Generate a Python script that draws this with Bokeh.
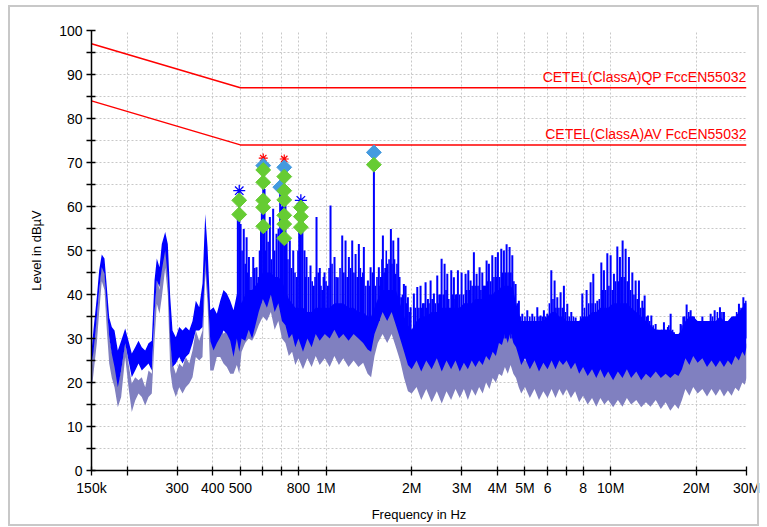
from bokeh.plotting import figure
from bokeh.models import FixedTicker, Range1d, InlineStyleSheet
from bokeh.embed import file_html
from bokeh.resources import INLINE
from bokeh.core.properties import value

# ---------------- data (frequencies in MHz, levels in dBuV) ----------------
freq_mhz = [
    0.150, 0.1524, 0.1566, 0.1596, 0.1630, 0.1666, 0.1698, 0.1731, 0.1768, 0.1807,
    0.1856, 0.1907, 0.1970, 0.2023, 0.2078, 0.2136, 0.2194, 0.2253, 0.2316, 0.2379,
    0.2443, 0.2497, 0.2544, 0.2600, 0.2649, 0.2723, 0.2781, 0.2836, 0.2889, 0.2967,
    0.3050, 0.3132, 0.3217, 0.3307, 0.3396, 0.3488, 0.3585, 0.3682, 0.3764, 0.3835,
    0.3919, 0.4025, 0.4134, 0.4249, 0.4364, 0.4482, 0.4607, 0.4732, 0.4860,
    0.4956, 0.505, 0.52, 0.535, 0.55, 0.565, 0.58, 0.60, 0.62, 0.64,
    0.66, 0.68, 0.70, 0.72, 0.74, 0.76, 0.78, 0.80, 0.83, 0.86,
    0.89, 0.92, 0.95, 0.99, 1.03, 1.07, 1.11, 1.15, 1.20, 1.25,
    1.30, 1.35, 1.40, 1.44, 1.48, 1.52, 1.58, 1.64, 1.70, 1.76,
    1.82, 1.88, 1.94, 2.00,
    2.08, 2.16, 2.25, 2.35, 2.45, 2.55, 2.65, 2.75, 2.85, 2.95,
    3.05, 3.15, 3.25, 3.35, 3.45, 3.55, 3.65, 3.75, 3.85, 3.95,
    4.05, 4.15, 4.25, 4.35, 4.45, 4.55, 4.65, 4.75, 4.85,
    5.0, 5.2, 5.4, 5.6, 5.8,
    6.0, 6.2, 6.4, 6.6, 6.8,
    7.0, 7.25, 7.5, 7.75,
    8.0, 8.3, 8.6, 8.9,
    9.2, 9.5, 9.8,
    10.2, 10.6, 11.0, 11.4, 11.8,
    12.3, 12.8, 13.3, 13.8,
    14.4, 15.0, 15.6, 16.2, 16.8, 17.3, 17.8,
    18.3, 18.9, 19.5, 20.2,
    21.0, 21.8, 22.6, 23.4, 24.2, 25.0, 25.8, 26.6, 27.4, 28.2, 29.0, 29.6, 30.0,
]

# peak detector trace: upper / lower edge of the dense blue body
pk_hi = [
    27, 32, 39.4, 45.5, 49.1, 48.2, 41.7, 34.8, 32.6, 31.8,
    27.3, 29.5, 32.3, 29.5, 26.6, 28, 29.5, 28, 27.3, 28.9,
    29.5, 43.2, 48.2, 46.2, 51.5, 54.2, 51.5, 39.4, 31.8, 30.3,
    32.6, 31.8, 32.6, 31.8, 34, 38.6, 37.1, 42.5, 58.3, 50.8,
    36.4, 37.1, 35.6, 38.6, 41, 40.2, 38.6, 36.4, 40,
    40, 38, 40, 41, 41, 42, 43, 45, 45, 45,
    44, 44, 43, 41, 39, 38, 37, 37, 37, 36,
    36, 37, 37, 37, 37, 38, 38, 38, 37, 37,
    36, 36, 35, 35, 37, 39, 41, 41, 41, 41,
    38, 35, 33, 32,
    34, 35, 35, 36, 36, 37, 37, 37, 37, 37,
    38, 38, 38, 39, 39, 39, 40, 40, 40, 41,
    41, 42, 42, 42, 42, 41, 38, 36, 34,
    34, 34, 34, 34, 34,
    35, 36, 36, 35, 35,
    34, 34, 34, 34,
    35, 35, 36, 36,
    37, 37, 37,
    38, 38, 38, 38, 37,
    36, 35, 34, 33,
    32, 32, 32, 32, 31, 31, 32,
    34, 35, 35, 34,
    34, 34, 34, 34, 35, 34, 34, 35, 35, 36, 37, 38, 38,
]
pk_lo = [
    24, 27, 34.8, 41, 46.2, 44.7, 37.1, 30.3, 26.5, 23.5,
    18.9, 22.7, 28.9, 25, 21.2, 22.7, 24.3, 22.7, 23.5, 24.3,
    22.7, 35.6, 43.2, 41.7, 45.5, 50, 43.9, 29.5, 23.5, 24.3,
    25.8, 24.3, 25.8, 26.6, 28.9, 31.8, 31.8, 32.6, 48, 41,
    29.5, 27.3, 28.9, 30.3, 31.8, 31.1, 29.5, 25.8, 30,
    27, 30, 29.5, 32, 30, 33, 36, 39, 37, 40,
    36, 38, 34, 33, 30, 31, 28, 30, 27, 30,
    28, 31, 29.5, 31, 30, 32, 30, 31, 29.5, 31,
    30, 29, 27.5, 27, 31, 33, 36, 34, 36, 33,
    30, 27, 24, 23,
    25, 22.5, 25, 23, 25.5, 22.5, 25, 23, 25, 22.5,
    24.5, 23, 25, 23.5, 25, 24, 26, 25, 27, 26,
    29, 28.5, 31, 29, 31.5, 29, 28, 26, 24,
    25.5, 23, 25, 22.5, 24.5,
    23, 25, 23, 25, 24,
    25, 23, 24.5, 22,
    23.5, 21.5, 23, 21,
    23, 21, 22.5,
    20.5, 22.5, 21, 23, 21,
    22.5, 20.5, 22, 21,
    22.5, 21, 22, 21, 22, 21.5, 23,
    25.5, 24, 26, 24.5,
    25.5, 23.5, 25, 23.5, 25, 23.5, 25, 24, 26, 25, 27, 26, 28,
]

# average detector trace
av_hi = [
    22, 28.9, 35, 41, 47, 46, 38, 30.3, 27, 25.8,
    19.8, 22.7, 29.5, 24.3, 19.8, 21.2, 20.5, 21.2, 18.9, 22.7,
    22, 35.6, 43.9, 41, 48.5, 53, 48, 31.8, 24.3, 22,
    24.3, 23.5, 25.8, 24.3, 27.3, 31.8, 29.5, 31.8, 56, 46,
    29.5, 28.9, 31.8, 33.4, 31.1, 31.8, 33.4, 31.8, 34,
    38, 36, 37, 40, 40, 41, 42, 44, 44, 43,
    43, 42, 41, 38, 36, 34, 33, 33, 32, 32,
    32, 33, 33, 33, 33, 33, 33, 33, 32, 32,
    32, 31, 30, 30, 33, 35, 37, 37, 37, 36,
    33, 30, 27, 26,
    26, 26, 26, 26, 26, 26, 26, 26, 27, 27,
    27, 27, 27, 27, 28, 28, 28, 29, 29, 30,
    30, 31, 31, 31, 31, 30, 29, 27, 26,
    25, 25, 25, 25, 25,
    25, 25, 25, 25, 25,
    25, 25, 25, 25,
    25, 25, 25, 25,
    25, 25, 25,
    25, 25, 25, 25, 24,
    24, 24, 24, 24,
    23, 23, 23, 23, 23, 23, 24,
    26, 26, 26, 26,
    26, 26, 26, 26, 26, 26, 26, 26, 27, 27, 28, 28, 29,
]
av_lo = [
    18, 22, 29, 36, 43, 41, 32, 24.3, 21, 18.9,
    14.4, 16.7, 25.8, 18.9, 13.3, 15.9, 17.5, 16.7, 14.8, 16.7,
    17.5, 29.5, 37.9, 35.6, 39.4, 46, 40, 22.7, 18.9, 16.7,
    18.9, 17.5, 18.9, 19.8, 21.2, 25.8, 25, 25.8, 45, 38,
    22.7, 22.7, 25.8, 25.8, 24.3, 23.5, 22, 22, 24,
    22, 27, 29, 30, 29.5, 31, 33, 35, 34, 36,
    32, 34, 30, 29, 26, 27, 24, 25.5, 23, 25.5,
    23.5, 26, 24, 25.5, 23.5, 26, 24, 25.5, 23.5, 25,
    23.5, 24.5, 22, 21.2, 26, 29, 31, 29, 31, 28,
    25, 21, 18, 17.5,
    19, 16, 18.5, 15.5, 18, 15.2, 18, 16, 18.5, 16.5,
    18.5, 16, 18.5, 17, 19, 17.5, 20, 18.5, 21, 20,
    22, 21.5, 23.5, 22, 24, 22, 21, 19, 17.5,
    19, 16.5, 18.5, 16, 18,
    16.5, 18.5, 16.5, 18.5, 17,
    18.5, 16.5, 18, 15.5,
    17, 15, 16.5, 14.5,
    16.5, 15, 16,
    14.4, 16, 14.5, 16.5, 15,
    16, 14.4, 15.5, 14.5,
    16, 14, 15.5, 13.6, 15, 14, 16,
    18.5, 17, 19, 17.5,
    18.5, 16.8, 18.5, 17, 18.5, 16.8, 18.2, 17, 18.8, 18, 20, 19.5, 21,
]

# main emission lines of the peak trace
spike_f = [
    0.490, 0.4956, 0.501, 0.514, 0.526, 0.536, 0.555, 0.570, 0.585, 0.595,
    0.602, 0.608, 0.618, 0.635, 0.652, 0.670, 0.690, 0.705, 0.713, 0.720,
    0.727, 0.746, 0.767, 0.790, 0.805, 0.816, 0.826, 0.840, 0.854, 0.882,
    0.905, 0.926, 0.951, 0.970, 0.988, 1.015, 1.037, 1.071, 1.100, 1.140,
    1.171, 1.203, 1.236, 1.270, 1.304, 1.330, 1.358, 1.403, 1.434, 1.473,
    1.533, 1.560, 1.584, 1.615, 1.641, 1.690, 1.723, 1.755, 1.794, 1.838,
    1.877, 1.903, 1.939, 1.982,
    2.035, 2.092, 2.148, 2.19, 2.237, 2.28, 2.330, 2.393, 2.459, 2.50,
    2.547, 2.609, 2.667, 2.754, 2.813, 2.86, 2.906, 2.994, 3.092, 3.161,
    3.220, 3.307, 3.380, 3.463, 3.540, 3.60, 3.665, 3.734, 3.838, 3.942,
    4.016, 4.128, 4.215, 4.309, 4.414, 4.512, 4.634, 4.759, 4.892, 5.094,
    5.304, 5.523, 5.672, 5.826, 5.988, 6.186, 6.353, 6.493, 6.669, 6.849,
    7.040, 7.272, 7.530, 7.734, 7.949, 8.231, 8.502, 8.689, 8.975, 9.271,
    9.468, 9.732, 9.995, 10.265, 10.552, 10.777, 11.014, 11.285, 11.590, 11.914,
    12.236, 12.567, 12.918, 13.160, 13.516, 13.893, 14.385, 14.895, 15.385, 15.890,
    16.242, 16.680, 17.145, 17.609, 18.0, 18.485, 19.094, 19.611, 20.256, 20.991,
    21.857, 22.448, 23.187, 24.203, 24.998, 26.031, 27.104, 28.224, 29.246, 29.9,
]
spike_top = [
    58, 63.5, 56, 54.9, 53, 48.5, 48.5, 46.2, 50, 62,
    70.8, 64, 56, 57.6, 59.5, 53.8, 66, 68, 70.5, 62,
    53, 52.3, 50, 44, 58, 61.7, 57, 50, 48.5, 46.6,
    42, 57.6, 46, 41, 45, 42, 60.2, 48.5, 43.9, 53.4,
    52.3, 48.5, 52.3, 49.2, 51.5, 44, 50.8, 43.2, 46.2, 72,
    46.2, 44, 53.4, 46, 47, 54.9, 52.3, 44.7, 52.9, 39.4,
    42.4, 42, 39.4, 37.1,
    40.2, 41.7, 42, 38, 42.8, 39, 43.2, 40.2, 44.3, 40,
    48.1, 47, 44.7, 45.5, 43.9, 40, 45.5, 45, 44.7, 45.5,
    43.2, 49.6, 44.7, 46.2, 45, 42, 47.7, 47, 48.9, 48.5,
    49.6, 50.4, 50, 51.4, 50.8, 48.9, 42.4, 38.6, 35.6, 36.4,
    35.6, 37.1, 35.2, 36.4, 35.6, 45.5, 43.2, 39.4, 40.5, 42,
    37.9, 36, 34.8, 33.3, 40.2, 41, 42.8, 44.7, 38.6, 47.3,
    45.5, 49.4, 48.9, 44.7, 50.9, 48.5, 52.3, 50.4, 48.5, 45,
    43.2, 43.2, 38.6, 39.8, 35.2, 35.2, 33.3, 31.4, 33.7, 32.6,
    35.6, 31.4, 30.3, 33.3, 35, 37.7, 36.4, 35, 33.3, 35,
    33.3, 35.6, 36.4, 37.1, 36, 33.3, 35, 37.9, 39.4, 38.6,
]
spike_base = [
    34, 34, 34, 36, 36, 36, 36, 38, 38, 40,
    40, 40, 40, 40, 40, 40, 38, 38, 38, 38,
    36, 34, 34, 33, 33, 33, 33, 33, 33, 33,
    33, 33, 33, 33, 33, 33, 33, 34, 34, 34,
    34, 34, 34, 33, 33, 33, 33, 32, 32, 32,
    34, 36, 36, 36, 36, 36, 36, 36, 36, 35,
    32, 31, 30, 29,
    31, 31, 31, 31, 31, 31, 31, 31, 31, 31,
    31, 31, 31, 31, 31, 31, 31, 31, 31, 31,
    31, 31, 31, 31, 31, 31, 31, 31, 31, 31,
    31, 31, 31, 31, 31, 31, 31, 30, 30, 30,
    30, 30, 30, 30, 30, 30, 30, 30, 30, 30,
    30, 30, 30, 30, 30, 30, 30, 30, 30, 30,
    30, 30, 30, 30, 30, 30, 30, 30, 30, 30,
    30, 30, 30, 30, 30, 30, 29, 29, 29, 29,
    29, 29, 28, 28, 30, 30, 30, 30, 30, 30,
    30, 30, 30, 30, 30, 30, 30, 30, 30, 30,
]

# smaller lines between the main ones
minor_spike_f = [
    0.507, 0.520, 0.531, 0.545, 0.562, 0.578, 0.590, 0.613, 0.626, 0.643,
    0.660, 0.680, 0.698, 0.735, 0.756, 0.778, 0.797, 0.846, 0.868, 0.894,
    0.915, 0.939, 0.960, 0.979, 1.000, 1.025, 1.050, 1.085, 1.120, 1.155,
    1.187, 1.220, 1.253, 1.287, 1.320, 1.345, 1.380, 1.418, 1.455, 1.490,
    1.510, 1.547, 1.572, 1.600, 1.628, 1.665, 1.705, 1.740, 1.775, 1.815,
    1.855, 1.920, 1.960,
    2.06, 2.12, 2.17, 2.21, 2.26, 2.30, 2.36, 2.42, 2.48, 2.52,
    2.58, 2.64, 2.70, 2.78, 2.84, 2.88, 2.95, 3.04, 3.12, 3.19,
    3.26, 3.34, 3.42, 3.50, 3.57, 3.63, 3.70, 3.79, 3.89, 3.98,
    4.07, 4.17, 4.26, 4.36, 4.46, 4.57, 4.70, 4.82, 5.00, 5.20,
    5.40, 5.60, 5.75, 5.90, 6.09, 6.27, 6.42, 6.58, 6.76, 6.94,
    7.15, 7.40, 7.63, 7.84, 8.09, 8.37, 8.60, 8.83, 9.12, 9.37,
    9.60, 9.86, 10.13, 10.41, 10.66, 10.90, 11.15, 11.44, 11.75, 12.07,
    12.40, 12.74, 13.04, 13.34, 13.70, 14.10, 14.60, 15.10, 15.60, 16.00,
    16.50, 16.90, 17.40, 17.80, 18.20, 18.80, 19.35, 19.90, 20.60, 21.40,
    22.10, 22.80, 23.70, 24.60, 25.50, 26.60, 27.70, 28.70, 29.60,
]
minor_spike_top = [
    50, 47, 45, 44, 46, 44, 55, 50, 52, 48,
    50, 55, 60, 48, 46, 45, 50, 44, 44, 43,
    44, 45, 42, 44, 43, 46, 47, 44, 46, 45,
    44, 46, 45, 44, 46, 45, 42, 42, 45, 42,
    44, 42, 48, 45, 50, 48, 47, 48, 47, 44,
    40, 38, 36,
    37, 37, 37, 38, 37, 38, 39, 38, 38, 40,
    40, 41, 39, 40, 39, 40, 40, 40, 41, 41,
    42, 42, 42, 41, 42, 42, 43, 43, 44, 44,
    44, 45, 45, 45, 45, 43, 38, 35, 35, 35,
    35, 35, 35, 35, 38, 39, 37, 37, 37, 36,
    35, 35, 34, 35, 37, 38, 38, 38, 39, 41,
    41, 42, 41, 43, 43, 44, 44, 43, 41, 40,
    39, 37, 37, 35, 34, 33, 32, 32, 32, 33,
    32, 31, 31, 33, 35, 36, 35, 34, 34, 34,
    34, 35, 36, 36, 34, 34, 36, 37, 38,
]
minor_spike_base = [
    34, 34, 35, 35, 36, 37, 38, 40, 40, 40,
    40, 40, 38, 36, 34, 34, 33, 33, 33, 33,
    33, 33, 33, 33, 33, 33, 33, 34, 34, 34,
    34, 34, 34, 33, 33, 33, 32, 32, 32, 33,
    34, 35, 36, 36, 36, 36, 36, 36, 36, 35,
    32, 30, 29,
    30, 30, 30, 30, 30, 30, 30, 30, 30, 30,
    30, 30, 30, 30, 30, 30, 30, 30, 30, 30,
    30, 30, 30, 30, 30, 30, 30, 30, 30, 30,
    30, 30, 30, 30, 30, 30, 30, 30, 30, 30,
    30, 30, 30, 30, 30, 30, 30, 30, 30, 30,
    30, 30, 30, 30, 30, 30, 30, 30, 30, 30,
    30, 30, 30, 30, 30, 30, 30, 30, 30, 30,
    30, 30, 30, 30, 30, 29, 29, 29, 29, 29,
    29, 28, 28, 29, 30, 30, 30, 30, 30, 30,
    30, 30, 30, 30, 30, 30, 30, 30, 30,
]

# limit lines
limit_f = [0.15, 0.5, 30.0]
qp_limit = [97, 87, 87]
av_limit = [84, 74, 74]
limit_names = ["CETEL(ClassA)QP FccEN55032", "CETEL(ClassA)AV FccEN55032"]

# final measurement markers
qp_mark_f = [0.6018, 0.6906, 0.7132, 1.4726]
qp_mark_lv = [69.3, 64.4, 68.9, 72.3]
av_mark_f = [0.4956, 0.4956, 0.6018, 0.6018, 0.6018, 0.6018, 0.6018,
             0.7132, 0.7132, 0.7132, 0.7132, 0.7132, 0.7132,
             0.8157, 0.8157, 0.8157, 1.4726]
av_mark_lv = [61.4, 58.2, 68.3, 65.5, 61.4, 59.8, 55.5,
              66.8, 63.6, 61.5, 58.0, 56.0, 52.8,
              59.8, 57.7, 55.3, 69.5]
pk_star_f = [0.4956, 0.8157]
pk_star_lv = [63.6, 61.4]
red_star_f = [0.6018, 0.7132]
red_star_lv = [71.0, 70.8]

# axes
x_ticks = [0.15, 0.2, 0.3, 0.4, 0.5, 0.6, 0.7, 0.8, 1.0, 2.0, 3.0, 4.0, 5.0, 6.0, 7.0, 8.0, 10.0, 20.0, 30.0]
x_labels = ["150k", "", "300", "400", "500", "", "", "800", "1M", "2M", "3M", "4M", "5M", "6", "", "8", "10M", "20M", "30M"]
y_ticks = [0, 10, 20, 30, 40, 50, 60, 70, 80, 90, 100]
y_minor = [5, 15, 25, 35, 45, 55, 65, 75, 85, 95]

# ---------------- figure ----------------
FONT = "Liberation Sans"
p = figure(width=767, height=527, x_axis_type="log",
           x_range=Range1d(0.15, 30.0), y_range=Range1d(0, 100),
           output_backend="svg", toolbar_location=None,
           min_border_left=91, min_border_right=21, min_border_top=30, min_border_bottom=57,
           background_fill_color="white", border_fill_color="white")
p.outline_line_color = None

p.stylesheets = [InlineStyleSheet(css=(
    ":host { position: relative; }"
    ":host::after { content: ''; position: absolute; left: 8px; top: 5px; width: 751px; height: 521px;"
    " border: 2px solid #c8c8c8; box-sizing: border-box; pointer-events: none; }"))]

# traces
p.varea(x=freq_mhz, y1=av_lo, y2=av_hi, fill_color="#8080c0")
p.varea(x=freq_mhz, y1=pk_lo, y2=pk_hi, fill_color="#0000ff")
p.segment(x0=minor_spike_f, y0=minor_spike_base, x1=minor_spike_f, y1=minor_spike_top,
          line_color="#0000ff", line_width=1.6)
p.segment(x0=spike_f, y0=spike_base, x1=spike_f, y1=spike_top, line_color="#0000ff", line_width=2)

# limits
p.line(limit_f, qp_limit, line_color="#ff0000", line_width=1.5)
p.line(limit_f, av_limit, line_color="#ff0000", line_width=1.5)
p.text(x=[limit_f[-1], limit_f[-1]], y=[qp_limit[-1], av_limit[-1]], text=limit_names,
       text_align="right", text_baseline="bottom", y_offset=-3,
       text_color="#ff0000", text_font=value(FONT), text_font_size="14px")

# markers
p.scatter(red_star_f, red_star_lv, marker="asterisk", size=9, line_color="#ff0000", line_width=1.2)
p.scatter(pk_star_f, pk_star_lv, marker="asterisk", size=12, line_color="#0000ff", line_width=1.3)
p.scatter(qp_mark_f, qp_mark_lv, marker="square", angle=0.785398, size=10.5,
          fill_color="#449adf", line_color="#449adf")
p.scatter(av_mark_f, av_mark_lv, marker="square", angle=0.785398, size=10.5,
          fill_color="#66cc33", line_color="#66cc33")

# grids
for g in (p.xgrid, p.ygrid):
    g.grid_line_color = "#c8c8c8"
    g.grid_line_dash = "2 2"
    g.grid_line_width = 1
p.ygrid.minor_grid_line_color = "#c8c8c8"
p.ygrid.minor_grid_line_dash = "2 2"

# axes
p.xaxis.ticker = FixedTicker(ticks=x_ticks, minor_ticks=[])
p.xaxis.major_label_overrides = {t: l for t, l in zip(x_ticks, x_labels)}
p.yaxis.ticker = FixedTicker(ticks=y_ticks, minor_ticks=y_minor)
p.xaxis.axis_label = "Frequency in Hz"
p.yaxis.axis_label = "Level in dB\u00b5V"
for ax in (p.xaxis[0], p.yaxis[0]):
    ax.axis_line_color = "#000000"
    ax.axis_line_width = 1.5
    ax.major_tick_line_color = "#000000"
    ax.minor_tick_line_color = "#000000"
    ax.major_tick_line_width = 1.3
    ax.minor_tick_line_width = 1.3
    ax.major_tick_in = 4
    ax.major_tick_out = 5
    ax.minor_tick_in = 4
    ax.minor_tick_out = 5
    ax.major_label_text_font = FONT
    ax.major_label_text_font_size = "14px"
    ax.major_label_text_color = "#000000"
    ax.major_label_standoff = 4
    ax.axis_label_text_font = FONT
    ax.axis_label_text_font_size = "13px"
    ax.axis_label_text_font_style = "normal"
    ax.axis_label_text_color = "#000000"
p.yaxis.axis_label_standoff = 12
p.xaxis.axis_label_standoff = 8

open("out.html", "w").write(file_html(p, INLINE))
